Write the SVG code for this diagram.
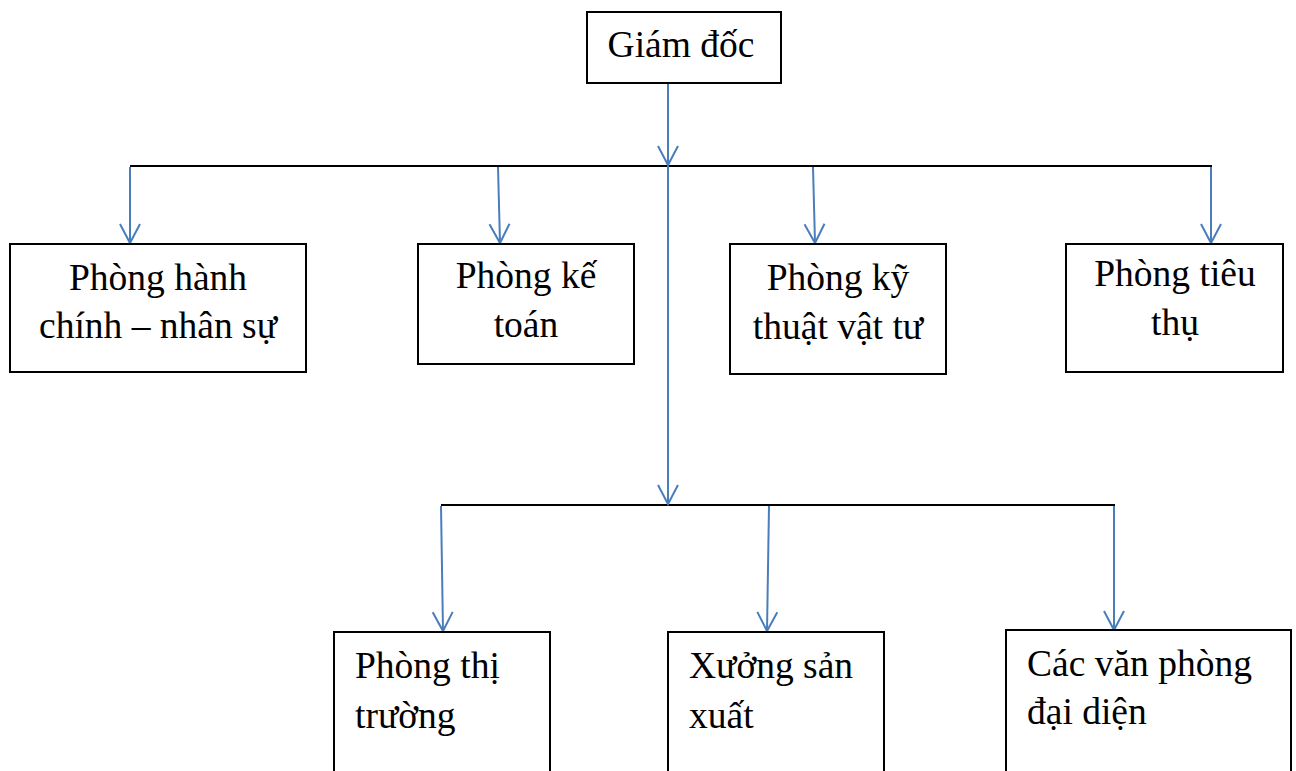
<svg xmlns="http://www.w3.org/2000/svg" width="1296" height="771" viewBox="0 0 1296 771">
<style>
.box{fill:#fff;stroke:#000;stroke-width:2}
.t{font-family:"Liberation Serif","Times New Roman",serif;font-size:37.5px;fill:#000}
.c{text-anchor:middle}
.bar{stroke:#000;stroke-width:2;fill:none}
.arr{stroke:#4a7ebb;stroke-width:2;fill:none;marker-end:url(#ah)}
.ln{stroke:#4a7ebb;stroke-width:2;fill:none}
</style>
<defs>
<marker id="ah" markerUnits="userSpaceOnUse" orient="auto" refX="0" refY="0" markerWidth="30" markerHeight="30" overflow="visible">
<path d="M-19,-10 L0,0 L-19,10" fill="none" stroke="#4a7ebb" stroke-width="2"/>
</marker>
</defs>
<rect width="1296" height="771" fill="#fff"/>
<g id="connectors">
<line class="bar" x1="130" y1="166" x2="1212" y2="166"/>
<line class="bar" x1="441" y1="505" x2="1115" y2="505"/>
<line class="arr" x1="668" y1="84" x2="668" y2="165"/>
<line class="ln" x1="668" y1="166" x2="668" y2="480"/>
<line class="arr" x1="668" y1="480" x2="668" y2="504"/>
<line class="arr" x1="130" y1="167" x2="130" y2="243"/>
<line class="arr" x1="498" y1="167" x2="500" y2="243"/>
<line class="arr" x1="813" y1="167" x2="815" y2="243"/>
<line class="arr" x1="1211" y1="167" x2="1211" y2="243"/>
<line class="arr" x1="441" y1="506" x2="443" y2="631"/>
<line class="arr" x1="769" y1="506" x2="767" y2="631"/>
<line class="arr" x1="1114" y1="506" x2="1114" y2="630"/>
</g>
<g id="giamdoc">
<rect class="box" x="587" y="12" width="194" height="71"/>
<text class="t c" x="681" y="57">Giám đốc</text>
</g>
<g id="hanhchinh">
<rect class="box" x="10" y="244" width="296" height="128"/>
<text class="t c" x="158" y="290">Phòng hành</text>
<text class="t c" x="158" y="338">chính – nhân sự</text>
</g>
<g id="ketoan">
<rect class="box" x="418" y="244" width="216" height="120"/>
<text class="t c" x="526" y="288">Phòng kế</text>
<text class="t c" x="526" y="337">toán</text>
</g>
<g id="kythuat">
<rect class="box" x="730" y="244" width="216" height="130"/>
<text class="t c" x="838" y="290">Phòng kỹ</text>
<text class="t c" x="838" y="339">thuật vật tư</text>
</g>
<g id="tieuthu">
<rect class="box" x="1066" y="244" width="217" height="128"/>
<text class="t c" x="1175" y="286">Phòng tiêu</text>
<text class="t c" x="1175" y="335">thụ</text>
</g>
<g id="thitruong">
<rect class="box" x="334" y="632" width="216" height="160"/>
<text class="t" x="355" y="678">Phòng thị</text>
<text class="t" x="355" y="728">trường</text>
</g>
<g id="xuong">
<rect class="box" x="668" y="632" width="216" height="160"/>
<text class="t" x="689" y="678">Xưởng sản</text>
<text class="t" x="689" y="728">xuất</text>
</g>
<g id="vanphong">
<rect class="box" x="1006" y="630" width="285" height="160"/>
<text class="t" x="1027" y="676">Các văn phòng</text>
<text class="t" x="1027" y="724">đại diện</text>
</g>
</svg>
